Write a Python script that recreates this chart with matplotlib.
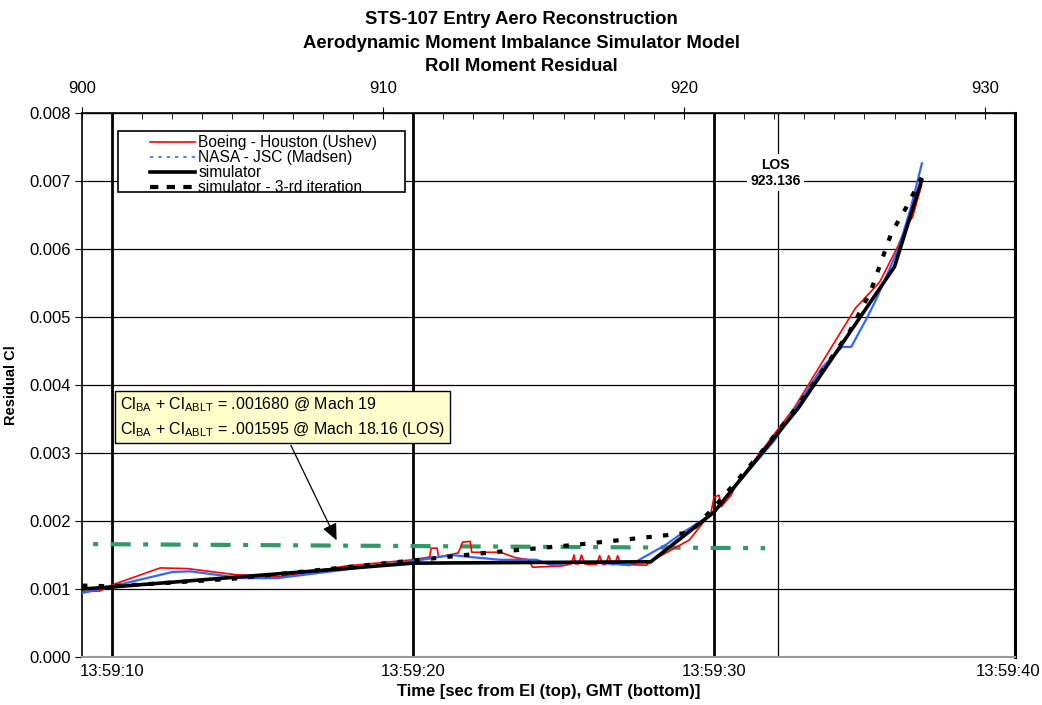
import matplotlib
matplotlib.use("Agg")
import matplotlib.pyplot as plt
import matplotlib.transforms as mtransforms
from matplotlib.lines import Line2D
from matplotlib.patches import Rectangle

plt.rcParams["font.family"] = ["Liberation Sans", "DejaVu Sans"]

# time from EI (s) and residual Cl for each series
boeing_t = [900.0, 900.6, 901.0, 902.6, 903.5, 905.1, 906.6, 908.8, 911.0, 911.55, 911.6,
            911.8, 911.85, 912.5, 912.65, 912.9, 912.95, 913.9, 914.4, 914.85, 914.97,
            915.96, 916.26, 916.35, 916.4, 916.5, 916.6, 916.7, 916.8, 917.1, 917.2, 917.3,
            917.4, 917.5, 917.6, 917.7, 917.8, 917.9, 918.0, 918.75, 918.95, 920.18,
            920.9, 921.0, 921.17, 921.24, 921.57, 921.74, 923.66, 925.7, 926.5, 927.1,
            927.4, 927.6, 927.9]
boeing_v = [0.00096, 0.00097, 0.00106, 0.00131, 0.00130, 0.00121, 0.00118, 0.00134, 0.00143,
            0.00147, 0.00160, 0.00160, 0.00147, 0.00153, 0.00169, 0.00170, 0.00154, 0.00154,
            0.00146, 0.00143, 0.00132, 0.00134, 0.00137, 0.00150, 0.00137, 0.00137, 0.00150,
            0.00137, 0.00136, 0.00136, 0.00149, 0.00136, 0.00136, 0.00149, 0.00136, 0.00136,
            0.00149, 0.00136, 0.00136, 0.00135, 0.00142, 0.00172, 0.00212, 0.00235, 0.00238,
            0.00221, 0.00238, 0.00254, 0.00366, 0.00513, 0.00551, 0.00603, 0.00635, 0.00647,
            0.00694]

nasa_t = [900.0, 901.0, 903.0, 903.6, 905.3, 906.5, 911.0, 912.3, 912.9, 913.9, 915.1,
          915.6, 916.4, 917.3, 918.2, 918.4, 919.4, 920.0, 920.9, 923.0, 924.6, 925.26,
          925.56, 926.05, 926.38, 926.82, 927.15, 927.55, 927.91]
nasa_v = [0.00094, 0.00104, 0.00125, 0.00126, 0.00116, 0.00116, 0.00141, 0.00150, 0.00147,
          0.00143, 0.00143, 0.00135, 0.00140, 0.00138, 0.00135, 0.00140, 0.00165, 0.00184,
          0.00209, 0.00318, 0.00426, 0.00456, 0.00456, 0.00496, 0.00525, 0.00569, 0.00603,
          0.00662, 0.00726]

sim_t = [900.0, 901.0, 911.0, 918.9, 921.0, 923.8, 927.0, 927.9]
sim_v = [0.00100, 0.00103, 0.00138, 0.00140, 0.00213, 0.00366, 0.00574, 0.00701]

iter3_t = [900.0, 901.0, 905.0, 911.0, 913.4, 916.4, 919.4, 920.2, 921.0, 922.5, 923.8,
           925.5, 926.2, 926.9, 927.4, 927.9]
iter3_v = [0.00105, 0.00104, 0.00115, 0.00142, 0.00153, 0.00165, 0.00179, 0.00183, 0.00220,
           0.00297, 0.00370, 0.00478, 0.00537, 0.00624, 0.00662, 0.00705]

mach_t = [900.37, 922.7]
mach_v = [0.00166, 0.00160]

los_t = 923.136

top_ticks = [900, 910, 920, 930]
gmt_ticks = [901, 911, 921, 931]
gmt_labels = ["13:59:10", "13:59:20", "13:59:30", "13:59:40"]

fig = plt.figure(figsize=(10.42, 7.05), dpi=100)
ax = fig.add_axes([0.0787, 0.0681, 0.8953, 0.7716])

ax.set_xlim(900, 931)
ax.set_ylim(0, 0.008)
ax.set_yticks([i * 0.001 for i in range(9)])
ax.yaxis.set_major_formatter(matplotlib.ticker.FormatStrFormatter("%.3f"))
ax.grid(axis="y", color="black", linewidth=0.9)
for g in gmt_ticks[:-1]:
    ax.axvline(g, color="black", linewidth=2, zorder=1)
ax.axvline(los_t, color="black", linewidth=0.9, zorder=1)

ax.set_xticks(gmt_ticks)
ax.set_xticklabels(gmt_labels)
ax.tick_params(axis="x", length=0, labelsize=12, pad=5)
ax.tick_params(axis="y", labelsize=12, direction="out", length=5, pad=3)
# last GMT label is pulled in so it stays inside the figure
last = ax.get_xticklabels()[-1]
last.set_transform(last.get_transform() +
                   mtransforms.ScaledTranslation(-5 / 72, 0, fig.dpi_scale_trans))

for s in ["left", "top"]:
    ax.spines[s].set_linewidth(1.2)
ax.spines["right"].set_linewidth(2.2)
ax.spines["bottom"].set_color("#999999")
ax.spines["bottom"].set_linewidth(1.5)

top = ax.secondary_xaxis("top")
top.set_xticks(top_ticks)
top.set_xticks(range(900, 932), minor=True)
top.tick_params(axis="x", which="major", direction="inout", length=8, labelsize=12, pad=8)
top.tick_params(axis="x", which="minor", direction="in", length=4)

ax.plot(mach_t, mach_v, color="#339966", linewidth=3, dashes=(1.2, 3, 4.8, 3), zorder=2)
ax.plot(boeing_t, boeing_v, color="red", linewidth=1.2, zorder=3)
ax.plot(nasa_t, nasa_v, color="#3366ff", linewidth=1.6, zorder=3)
ax.plot(iter3_t, iter3_v, color="black", linewidth=3, dashes=(1.3, 2.7), zorder=4)
ax.plot(sim_t, sim_v, color="black", linewidth=2.6, zorder=5)

# legend frame drawn separately, it has a wide empty margin on the left
ax.add_patch(Rectangle((0.0386, 0.855), 0.3076, 0.112, transform=ax.transAxes,
                       fc="white", ec="black", lw=1.2, zorder=9))
handles = [
    Line2D([], [], color="red", linewidth=1.2),
    Line2D([], [], color="#3366ff", linewidth=1.2, linestyle=(0, (2, 3))),
    Line2D([], [], color="black", linewidth=2.6),
    Line2D([], [], color="black", linewidth=3, dashes=(2, 2)),
]
labels = ["Boeing - Houston (Ushev)", "NASA - JSC (Madsen)", "simulator",
          "simulator - 3-rd iteration"]
leg = ax.legend(handles, labels, loc="upper left", bbox_to_anchor=(0.0729, 0.960),
                borderaxespad=0, frameon=False, fontsize=11.2, labelspacing=0.0,
                handlelength=2.9, handleheight=0.5, handletextpad=0.2, borderpad=0.0)
leg.set_zorder(10)

ax.text(901.25, 0.00384,
        r"Cl$_\mathregular{BA}$ + Cl$_\mathregular{ABLT}$ = .001680 @ Mach 19" "\n"
        r"Cl$_\mathregular{BA}$ + Cl$_\mathregular{ABLT}$ = .001595 @ Mach 18.16 (LOS)",
        fontsize=11.5, va="top", ha="left", linespacing=1.38, zorder=10,
        bbox=dict(boxstyle="square,pad=0.3", fc="#ffffcc", ec="black", lw=1.0))
ax.annotate("", xy=(908.5, 0.00168), xytext=(906.9, 0.00315),
            arrowprops=dict(arrowstyle="-|>,head_length=1.0,head_width=0.45",
                            color="black", lw=0.9), zorder=11)

ax.text(los_t - 0.1, 0.00712, "LOS\n923.136", fontsize=10, fontweight="bold",
        ha="center", va="center", linespacing=1.2, zorder=10,
        bbox=dict(boxstyle="square,pad=0.25", fc="white", ec="none"))

ax.set_xlabel("Time [sec from EI (top), GMT (bottom)]", fontsize=12,
              fontweight="bold", labelpad=4)
ax.set_ylabel("Residual Cl", fontsize=10.5, fontweight="bold", labelpad=8)

fig.text(0.5, 0.984, "STS-107 Entry Aero Reconstruction\n"
         "Aerodynamic Moment Imbalance Simulator Model\nRoll Moment Residual",
         ha="center", va="top", fontsize=13.3, fontweight="bold", linespacing=1.5)

fig.savefig("out.png", dpi=100)
